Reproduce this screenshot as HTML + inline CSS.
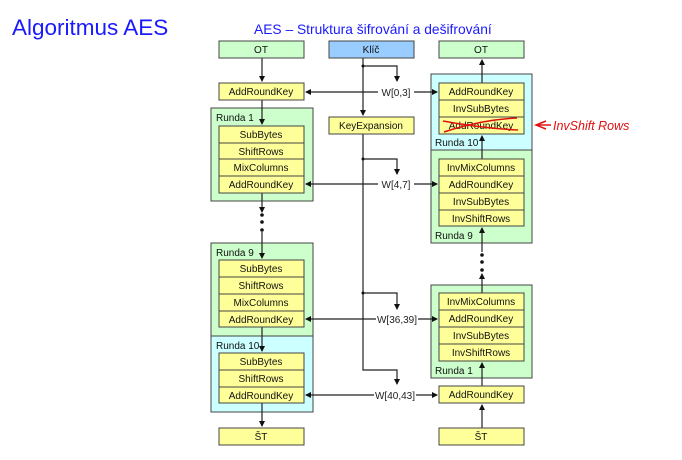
<!DOCTYPE html>
<html><head><meta charset="utf-8"><style>
html,body{margin:0;padding:0;background:#fff;}
svg{display:block;}
text{font-family:"Liberation Sans",Arial,sans-serif;}
.b text{font-size:10px;fill:#111;text-anchor:middle;}
</style></head><body>
<svg width="682" height="460" viewBox="0 0 682 460" xmlns="http://www.w3.org/2000/svg">
<defs>
<marker id="a" markerWidth="6" markerHeight="6" refX="5" refY="3" orient="auto" markerUnits="userSpaceOnUse"><path d="M0,0 L6,3 L0,6 z" fill="#111"/></marker>
</defs>
<text x="12" y="35" font-size="22.5" fill="#1a1aff">Algoritmus AES</text>
<text x="254" y="34" font-size="13.8" fill="#1a1aff">AES – Struktura šifrování a dešifrování</text>

<g stroke="#444" stroke-width="1">
<rect x="211" y="108" width="102" height="93" fill="#ccffcc"/>
<rect x="211" y="243" width="102" height="93" fill="#ccffcc"/>
<rect x="211" y="336" width="102" height="76" fill="#ccffff"/>
<rect x="431" y="74" width="101" height="76" fill="#ccffff"/>
<rect x="431" y="150" width="101" height="93" fill="#ccffcc"/>
<rect x="431" y="285" width="101" height="93" fill="#ccffcc"/>
</g>
<g font-size="10" fill="#111">
<text x="216" y="121">Runda 1</text>
<text x="216" y="256">Runda 9</text>
<text x="216" y="349">Runda 10</text>
<text x="435" y="146">Runda 10</text>
<text x="435" y="239">Runda 9</text>
<text x="435" y="374">Runda 1</text>
</g>

<g stroke="#222" stroke-width="1.2" fill="none">
<line x1="262" y1="58" x2="262" y2="81" marker-end="url(#a)"/>
<line x1="262" y1="100" x2="262" y2="124" marker-end="url(#a)"/>
<line x1="262" y1="193" x2="262" y2="212" marker-end="url(#a)"/>
<line x1="262" y1="232" x2="262" y2="258" marker-end="url(#a)"/>
<line x1="262" y1="327" x2="262" y2="351" marker-end="url(#a)"/>
<line x1="262" y1="403" x2="262" y2="426" marker-end="url(#a)"/>
<line x1="482" y1="83" x2="482" y2="60" marker-end="url(#a)"/>
<line x1="482" y1="159" x2="482" y2="136" marker-end="url(#a)"/>
<line x1="482" y1="252" x2="482" y2="228" marker-end="url(#a)"/>
<line x1="482" y1="293" x2="482" y2="274" marker-end="url(#a)"/>
<line x1="482" y1="386" x2="482" y2="363" marker-end="url(#a)"/>
<line x1="482" y1="428" x2="482" y2="405" marker-end="url(#a)"/>
<line x1="363" y1="58" x2="363" y2="115" marker-end="url(#a)"/>
<polyline points="363,66 397,66 397,81" marker-end="url(#a)"/>
<polyline points="363,134 363,370 397,370 397,384" marker-end="url(#a)"/>
<polyline points="363,159 397,159 397,174" marker-end="url(#a)"/>
<polyline points="363,293 397,293 397,309" marker-end="url(#a)"/>
<line x1="378" y1="92" x2="306" y2="92" marker-end="url(#a)"/>
<line x1="414" y1="92" x2="437" y2="92" marker-end="url(#a)"/>
<line x1="378" y1="184" x2="306" y2="184" marker-end="url(#a)"/>
<line x1="414" y1="184" x2="437" y2="184" marker-end="url(#a)"/>
<line x1="376" y1="319" x2="306" y2="319" marker-end="url(#a)"/>
<line x1="418" y1="319" x2="437" y2="319" marker-end="url(#a)"/>
<line x1="374" y1="395" x2="306" y2="395" marker-end="url(#a)"/>
<line x1="416" y1="395" x2="437" y2="395" marker-end="url(#a)"/>
</g>
<g fill="#111">
<circle cx="262" cy="215" r="1.8"/><circle cx="262" cy="222" r="1.8"/><circle cx="262" cy="230" r="1.8"/>
<circle cx="482" cy="255" r="1.8"/><circle cx="482" cy="262" r="1.8"/><circle cx="482" cy="270" r="1.8"/>
<circle cx="363" cy="66" r="1.5"/><circle cx="363" cy="159" r="1.5"/><circle cx="363" cy="293" r="1.5"/>
</g>
<g font-size="10" fill="#222" text-anchor="middle">
<text x="396" y="96">W[0,3]</text>
<text x="396" y="188">W[4,7]</text>
<text x="397" y="323">W[36,39]</text>
<text x="395" y="399">W[40,43]</text>
</g>

<g class="b">
<g stroke="#444" stroke-width="1">
<rect x="219" y="41" width="85" height="17" fill="#ccffcc"/>
<rect x="329" y="41" width="85" height="17" fill="#99ccff"/>
<rect x="439" y="41" width="85" height="17" fill="#ccffcc"/>
<rect x="219" y="83" width="85" height="17" fill="#ffff99"/>
<rect x="329" y="117" width="85" height="17" fill="#ffff99"/>
<rect x="219" y="126" width="85" height="67" fill="#ffff99"/>
<rect x="219" y="260" width="85" height="67" fill="#ffff99"/>
<rect x="219" y="353" width="85" height="50" fill="#ffff99"/>
<rect x="439" y="83" width="85" height="51" fill="#ffff99"/>
<rect x="439" y="159" width="85" height="67" fill="#ffff99"/>
<rect x="439" y="293" width="85" height="68" fill="#ffff99"/>
<rect x="439" y="386" width="85" height="17" fill="#ffff99"/>
<rect x="219" y="428" width="85" height="17" fill="#ffff99"/>
<rect x="439" y="428" width="85" height="17" fill="#ffff99"/>
<path d="M219,143H304M219,159H304M219,176H304M219,277H304M219,294H304M219,311H304M219,370H304M219,387H304M439,100H524M439,117H524M439,176H524M439,193H524M439,210H524M439,310H524M439,327H524M439,344H524" fill="none"/>
</g>
<text x="261" y="53">OT</text>
<text x="371" y="53">Klíč</text>
<text x="481" y="53">OT</text>
<text x="261" y="95">AddRoundKey</text>
<text x="371" y="129">KeyExpansion</text>
<text x="261" y="138">SubBytes</text>
<text x="261" y="155">ShiftRows</text>
<text x="261" y="171">MixColumns</text>
<text x="261" y="188">AddRoundKey</text>
<text x="261" y="272">SubBytes</text>
<text x="261" y="289">ShiftRows</text>
<text x="261" y="306">MixColumns</text>
<text x="261" y="323">AddRoundKey</text>
<text x="261" y="365">SubBytes</text>
<text x="261" y="382">ShiftRows</text>
<text x="261" y="399">AddRoundKey</text>
<text x="481" y="95">AddRoundKey</text>
<text x="481" y="112">InvSubBytes</text>
<text x="481" y="129">AddRoundKey</text>
<text x="481" y="171">InvMixColumns</text>
<text x="481" y="188">AddRoundKey</text>
<text x="481" y="205">InvSubBytes</text>
<text x="481" y="222">InvShiftRows</text>
<text x="481" y="305">InvMixColumns</text>
<text x="481" y="322">AddRoundKey</text>
<text x="481" y="339">InvSubBytes</text>
<text x="481" y="356">InvShiftRows</text>
<text x="481" y="398">AddRoundKey</text>
<text x="261" y="440">ŠT</text>
<text x="481" y="440">ŠT</text>
</g>

<g stroke="#e01010" stroke-width="1.5" fill="none">
<path d="M443,121 Q480,128 518,130"/>
<path d="M444,132 Q480,120 517,118"/>
<path d="M546,121 L536,125 L546,129"/>
<line x1="537" y1="125" x2="551" y2="125"/>
</g>
<text x="553" y="130" font-size="12.5" fill="#e01010" font-style="italic">InvShift Rows</text>
</svg>
</body></html>
